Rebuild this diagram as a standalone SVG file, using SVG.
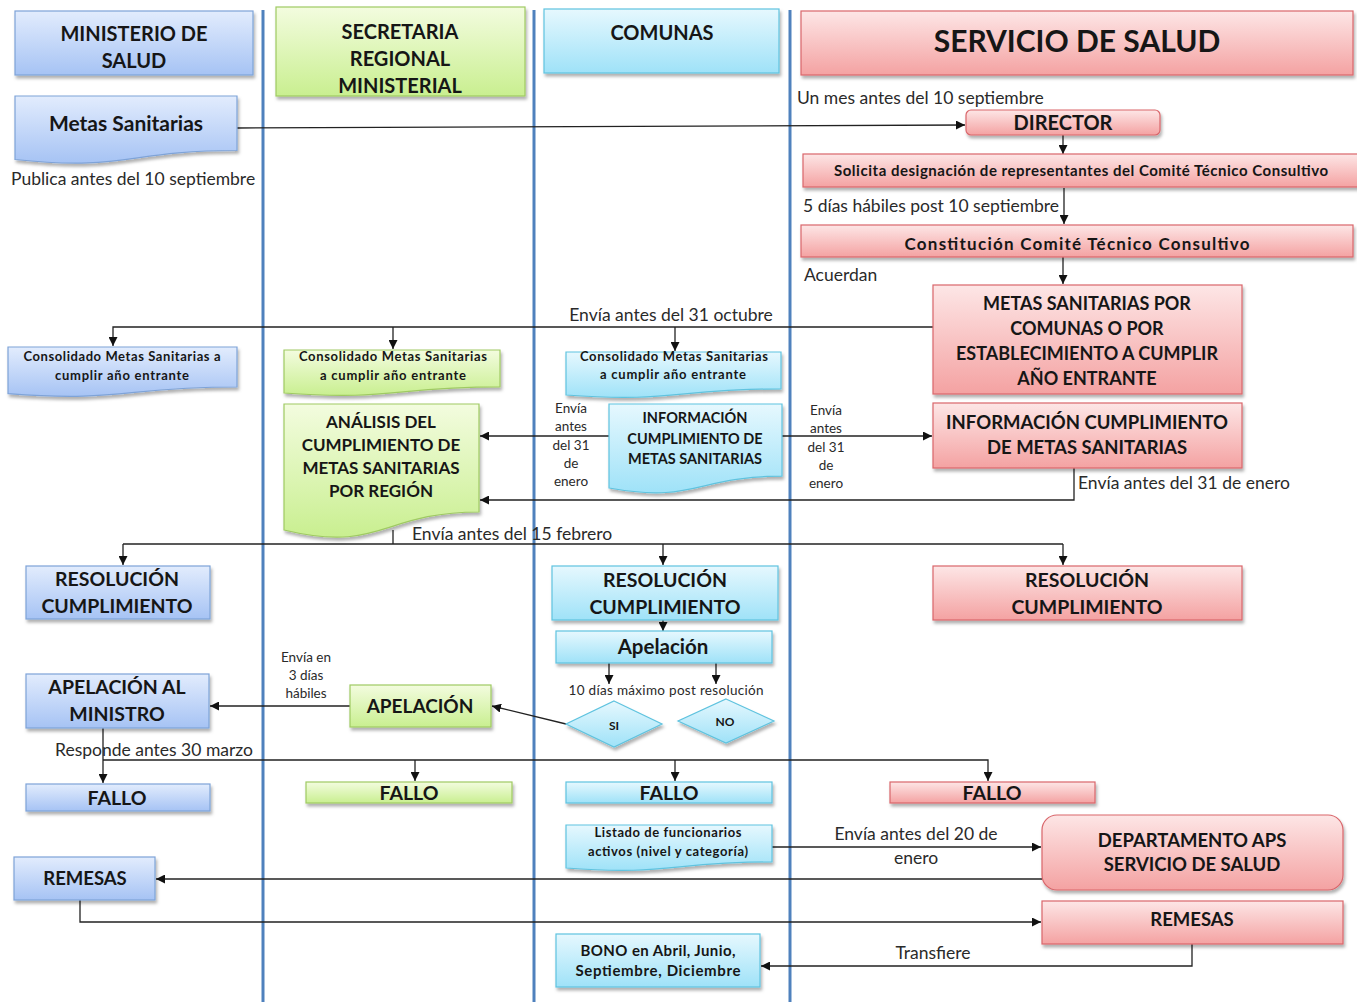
<svg xmlns="http://www.w3.org/2000/svg" width="1357" height="1002" viewBox="0 0 1357 1002">
<defs>
<linearGradient id="gB" x1="0" y1="0" x2="0" y2="1"><stop offset="0" stop-color="#e2ecfd"/><stop offset="1" stop-color="#a6c3f4"/></linearGradient>
<linearGradient id="gG" x1="0" y1="0" x2="0" y2="1"><stop offset="0" stop-color="#f3fcdf"/><stop offset="1" stop-color="#c9ef90"/></linearGradient>
<linearGradient id="gC" x1="0" y1="0" x2="0" y2="1"><stop offset="0" stop-color="#e6f8fe"/><stop offset="1" stop-color="#9fe2f8"/></linearGradient>
<linearGradient id="gR" x1="0" y1="0" x2="0" y2="1"><stop offset="0" stop-color="#fde6e6"/><stop offset="1" stop-color="#f4a2a2"/></linearGradient>
<filter id="sh" x="-10%" y="-10%" width="120%" height="140%"><feDropShadow dx="1.5" dy="3" stdDeviation="1.8" flood-color="#000" flood-opacity="0.3"/></filter>
<marker id="ar" viewBox="0 0 10 10" refX="10" refY="5" markerWidth="9" markerHeight="9" markerUnits="userSpaceOnUse" orient="auto"><path d="M0,0 L10,5 L0,10 z" fill="#111"/></marker>
<style>
.bl{fill:url(#gB);stroke:#7ea3d8;stroke-width:1.2;filter:url(#sh)}
.gr{fill:url(#gG);stroke:#9fca62;stroke-width:1.2;filter:url(#sh)}
.cy{fill:url(#gC);stroke:#5fc3df;stroke-width:1.2;filter:url(#sh)}
.rd{fill:url(#gR);stroke:#d9666b;stroke-width:1.2;filter:url(#sh)}
.t{font-family:Lato,"Liberation Sans",sans-serif;fill:#161616;text-anchor:middle;dominant-baseline:central;font-weight:bold}
.l{font-family:Lato,"Liberation Sans",sans-serif;fill:#2a2a2a;dominant-baseline:central;font-size:17.5px}
.s{font-family:Lato,"Liberation Sans",sans-serif;fill:#2a2a2a;dominant-baseline:central;font-size:13.5px;text-anchor:middle}
.c{fill:none;stroke:#222;stroke-width:1.3}
.a{marker-end:url(#ar)}
.lane{stroke:#4f81bd;stroke-width:3}
</style>
</defs>
<rect width="1357" height="1002" fill="#fff"/>
<g id="lanes">
<line class="lane" x1="263" y1="10" x2="263" y2="1002"/>
<line class="lane" x1="534" y1="10" x2="534" y2="1002"/>
<line class="lane" x1="790" y1="10" x2="790" y2="1002"/>
</g>
<g id="connectors">
<path class="c a" d="M237,128 L965,125"/>
<path class="c a" d="M1063,135 V154"/>
<path class="c a" d="M1064,188 V224"/>
<path class="c a" d="M1063,257 V284"/>
<path class="c a" d="M933,327 H113 V346"/>
<path class="c a" d="M393,327 V349"/>
<path class="c a" d="M675,327 V351"/>
<path class="c a" d="M609,436 H480"/>
<path class="c a" d="M782,436 H932"/>
<path class="c a" d="M1074,468 V500 H480"/>
<path class="c" d="M393,530 V544"/>
<path class="c a" d="M123,544 V565"/>
<path class="c" d="M123,544 H1063"/>
<path class="c a" d="M663,544 V565"/>
<path class="c a" d="M1063,544 V565"/>
<path class="c a" d="M663,620 V631"/>
<path class="c a" d="M609,663 V684"/>
<path class="c a" d="M716,663 V684"/>
<path class="c a" d="M566,724 L492,706"/>
<path class="c a" d="M350,706 H210"/>
<path class="c a" d="M103,728 V783"/>
<path class="c a" d="M103,760 H988 V781"/>
<path class="c a" d="M415,760 V781"/>
<path class="c a" d="M675,760 V781"/>
<path class="c a" d="M772,847 H1041"/>
<path class="c a" d="M1042,879 H156"/>
<path class="c a" d="M80,900 V922 H1041"/>
<path class="c a" d="M1192,944 V966 H761"/>
</g>
<g id="labels">
<text class="l" x="11" y="178">Publica antes del 10 septiembre</text>
<text class="l" x="797" y="97">Un mes antes del 10 septiembre</text>
<text class="l" x="803" y="205">5 días hábiles post 10 septiembre</text>
<text class="l" x="804" y="274">Acuerdan</text>
<text class="l" x="671" y="314" text-anchor="middle">Envía antes del 31 octubre</text>
<text class="l" x="1078" y="482">Envía antes del 31 de enero</text>
<text class="l" x="412" y="533">Envía antes del 15 febrero</text>
<text class="l" x="55" y="749">Responde antes 30 marzo</text>
<text class="l" x="916" y="833" text-anchor="middle">Envía antes del 20 de</text>
<text class="l" x="916" y="857" text-anchor="middle">enero</text>
<text class="l" x="933" y="952" text-anchor="middle">Transfiere</text>
<text class="s" x="571" y="408">Envía</text><text class="s" x="571" y="426">antes</text><text class="s" x="571" y="445">del 31</text><text class="s" x="571" y="463">de</text><text class="s" x="571" y="481">enero</text>
<text class="s" x="826" y="410">Envía</text><text class="s" x="826" y="428">antes</text><text class="s" x="826" y="447">del 31</text><text class="s" x="826" y="465">de</text><text class="s" x="826" y="483">enero</text>
<text class="s" x="306" y="657">Envía en</text><text class="s" x="306" y="675">3 días</text><text class="s" x="306" y="693">hábiles</text>
<text class="s" x="666" y="690" textLength="195" lengthAdjust="spacing">10 días máximo post resolución</text>
</g>
<g id="h-minsal"><rect class="bl" x="15" y="11" width="238" height="64"/><text class="t" font-size="20" x="134" y="33">MINISTERIO DE</text><text class="t" font-size="20" x="134" y="60">SALUD</text></g>
<g id="h-seremi"><rect class="gr" x="276" y="7" width="249" height="89"/><text class="t" font-size="20" x="400" y="31">SECRETARIA</text><text class="t" font-size="20" x="400" y="58">REGIONAL</text><text class="t" font-size="20" x="400" y="85">MINISTERIAL</text></g>
<g id="h-comunas"><rect class="cy" x="544" y="9" width="235" height="64"/><text class="t" font-size="20" x="662" y="32">COMUNAS</text></g>
<g id="h-servicio"><rect class="rd" x="801" y="11" width="552" height="64"/><text class="t" font-size="30" x="1077" y="40">SERVICIO DE SALUD</text></g>
<g id="metas"><path class="bl" d="M15,96 H237 V150.5 C126,150.5 126,171.3 15,159.5 Z"/><text class="t" font-size="21" x="126" y="122">Metas Sanitarias</text></g>
<g id="director"><rect class="rd" x="966" y="110" width="194" height="25" rx="5"/><text class="t" font-size="20" x="1063" y="122">DIRECTOR</text></g>
<g id="solicita"><rect class="rd" x="803" y="154" width="556" height="33"/><text class="t" font-size="15" x="1081" y="170" textLength="494" lengthAdjust="spacing">Solicita designación de representantes del Comité Técnico Consultivo</text></g>
<g id="constitucion"><rect class="rd" x="801" y="225" width="552" height="32"/><text class="t" font-size="17" x="1077" y="243" textLength="345" lengthAdjust="spacing">Constitución Comité Técnico Consultivo</text></g>
<g id="metas-comunas"><rect class="rd" x="933" y="285" width="309" height="109"/><text class="t" font-size="18" x="1087" y="303">METAS SANITARIAS POR</text><text class="t" font-size="18" x="1087" y="328">COMUNAS O POR</text><text class="t" font-size="18" x="1087" y="353">ESTABLECIMIENTO A CUMPLIR</text><text class="t" font-size="18" x="1087" y="378">AÑO ENTRANTE</text></g>
<g id="consol-min"><path class="bl" d="M8,347 H237 V387 C122.5,387 122.5,402.4 8,393.7 Z"/><text class="t" font-size="13" x="122" y="356" textLength="197" lengthAdjust="spacing">Consolidado Metas Sanitarias a</text><text class="t" font-size="13" x="122" y="375" textLength="134" lengthAdjust="spacing">cumplir año entrante</text></g>
<g id="consol-ser"><path class="gr" d="M284,350 H500 V386.9 C392,386.9 392,400.9 284,393 Z"/><text class="t" font-size="13" x="393" y="356" textLength="188" lengthAdjust="spacing">Consolidado Metas Sanitarias</text><text class="t" font-size="13" x="393" y="375" textLength="146" lengthAdjust="spacing">a cumplir año entrante</text></g>
<g id="consol-com"><path class="cy" d="M566,352 H781 V388.9 C673.5,388.9 673.5,402.9 566,395 Z"/><text class="t" font-size="13" x="674" y="356" textLength="188" lengthAdjust="spacing">Consolidado Metas Sanitarias</text><text class="t" font-size="13" x="673" y="374" textLength="146" lengthAdjust="spacing">a cumplir año entrante</text></g>
<g id="analisis"><path class="gr" d="M284,404 H479 V512 C381.5,512 381.5,553.5 284,530 Z"/><text class="t" font-size="17" x="381" y="421">ANÁLISIS DEL</text><text class="t" font-size="17" x="381" y="444">CUMPLIMIENTO DE</text><text class="t" font-size="17" x="381" y="467">METAS SANITARIAS</text><text class="t" font-size="17" x="381" y="490">POR REGIÓN</text></g>
<g id="info-com"><path class="cy" d="M609,404 H782 V476.2 C695.5,476.2 695.5,503.6 609,488 Z"/><text class="t" font-size="14.5" x="695" y="417">INFORMACIÓN</text><text class="t" font-size="14.5" x="695" y="438">CUMPLIMIENTO DE</text><text class="t" font-size="14.5" x="695" y="458">METAS SANITARIAS</text></g>
<g id="info-ser"><rect class="rd" x="933" y="403" width="309" height="65"/><text class="t" font-size="18.5" x="1087" y="422">INFORMACIÓN CUMPLIMIENTO</text><text class="t" font-size="18.5" x="1087" y="447">DE METAS SANITARIAS</text></g>
<g id="res-min"><rect class="bl" x="26" y="566" width="184" height="53"/><text class="t" font-size="19.5" x="117" y="578">RESOLUCIÓN</text><text class="t" font-size="19.5" x="117" y="605">CUMPLIMIENTO</text></g>
<g id="res-com"><rect class="cy" x="552" y="566" width="226" height="54"/><text class="t" font-size="19.5" x="665" y="579">RESOLUCIÓN</text><text class="t" font-size="19.5" x="665" y="606">CUMPLIMIENTO</text></g>
<g id="res-ser"><rect class="rd" x="933" y="566" width="309" height="54"/><text class="t" font-size="19.5" x="1087" y="579">RESOLUCIÓN</text><text class="t" font-size="19.5" x="1087" y="606">CUMPLIMIENTO</text></g>
<g id="apelacion-com"><rect class="cy" x="556" y="631" width="216" height="32"/><text class="t" font-size="20.5" x="663" y="646">Apelación</text></g>
<g id="si"><path class="cy" d="M614,701 L662,724 L614,747 L566,724 Z"/><text class="t" font-size="12" x="614" y="725">SI</text></g>
<g id="no"><path class="cy" d="M726,699 L774,721 L726,743 L678,721 Z"/><text class="t" font-size="12" x="725" y="721">NO</text></g>
<g id="apelacion-ser"><rect class="gr" x="350" y="685" width="141" height="42"/><text class="t" font-size="19" x="420" y="705">APELACIÓN</text></g>
<g id="apel-ministro"><rect class="bl" x="26" y="674" width="183" height="54"/><text class="t" font-size="19.5" x="117" y="686">APELACIÓN AL</text><text class="t" font-size="19.5" x="117" y="713">MINISTRO</text></g>
<g id="fallo-min"><rect class="bl" x="26" y="784" width="184" height="27"/><text class="t" font-size="19.5" x="117" y="797">FALLO</text></g>
<g id="fallo-ser"><rect class="gr" x="306" y="782" width="206" height="21"/><text class="t" font-size="19.5" x="409" y="792">FALLO</text></g>
<g id="fallo-com"><rect class="cy" x="566" y="782" width="206" height="21"/><text class="t" font-size="19.5" x="669" y="792">FALLO</text></g>
<g id="fallo-ss"><rect class="rd" x="890" y="782" width="205" height="21"/><text class="t" font-size="19.5" x="992" y="792">FALLO</text></g>
<g id="listado"><path class="cy" d="M566,825 H772 V861.9 C669,861.9 669,875.9 566,868 Z"/><text class="t" font-size="13" x="668" y="832" textLength="147" lengthAdjust="spacing">Listado de funcionarios</text><text class="t" font-size="13" x="668" y="851" textLength="160" lengthAdjust="spacing">activos (nivel y categoría)</text></g>
<g id="depto"><rect class="rd" x="1042" y="815" width="301" height="75" rx="15"/><text class="t" font-size="18.5" x="1192" y="840">DEPARTAMENTO APS</text><text class="t" font-size="18.5" x="1192" y="864">SERVICIO DE SALUD</text></g>
<g id="remesas-min"><rect class="bl" x="14" y="857" width="141" height="43"/><text class="t" font-size="18.5" x="85" y="878">REMESAS</text></g>
<g id="remesas-ss"><rect class="rd" x="1042" y="901" width="301" height="43"/><text class="t" font-size="18.5" x="1192" y="919">REMESAS</text></g>
<g id="bono"><rect class="cy" x="556" y="934" width="204" height="53"/><text class="t" font-size="15" x="658" y="950" textLength="155" lengthAdjust="spacing">BONO en Abril, Junio,</text><text class="t" font-size="15" x="658" y="970" textLength="165" lengthAdjust="spacing">Septiembre, Diciembre</text></g>
</svg>
